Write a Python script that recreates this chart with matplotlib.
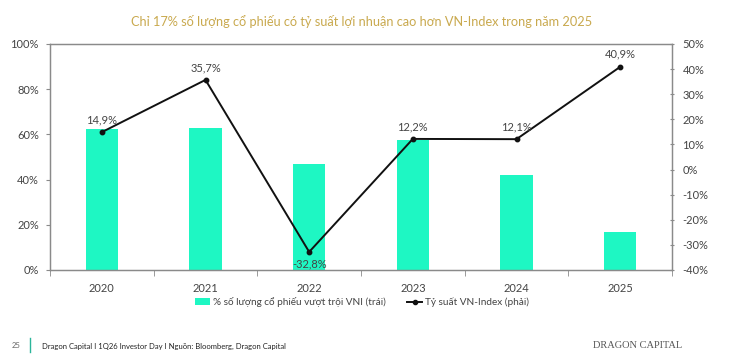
import matplotlib
matplotlib.use("Agg")
import matplotlib.pyplot as plt
from matplotlib.lines import Line2D
from matplotlib.patches import Patch
import numpy as np

plt.rcParams['font.family'] = ['Lato', 'DejaVu Sans']

years = ["2020", "2021", "2022", "2023", "2024", "2025"]
pct_outperform = [62.5, 62.8, 47.0, 57.5, 42.2, 17.0]
vni_return = [14.9, 35.7, -32.8, 12.2, 12.1, 40.9]
vni_labels = ["14,9%", "35,7%", "-32,8%", "12,2%", "12,1%", "40,9%"]
left_ticks = [0, 20, 40, 60, 80, 100]
right_ticks = [-40, -30, -20, -10, 0, 10, 20, 30, 40, 50]

title = "Chỉ 17% số lượng cổ phiếu có tỷ suất lợi nhuận cao hơn VN-Index trong năm 2025"
legend_bar = "% số lượng cổ phiếu vượt trội VNI (trái)"
legend_line = "Tỷ suất VN-Index (phải)"
footer = "Dragon Capital I 1Q26 Investor Day I Nguồn: Bloomberg, Dragon Capital"

bar_color = "#1EF7C3"
line_color = "#111111"
spine_color = "#8a8a8a"
text_color = "#444444"

fig = plt.figure(figsize=(7.39, 3.56), dpi=100)
ax = fig.add_axes([50/739, (356-270)/356, (672-50)/739, (270-44)/356])
x = np.arange(len(years))
ax.bar(x, pct_outperform, width=0.31, color=bar_color, zorder=2)
ax.set_xlim(-0.5, len(years) - 0.5)
ax.set_ylim(0, 100)
ax.set_yticks(left_ticks)
ax.set_yticklabels([f"{v}%" for v in left_ticks])
ax.set_xticks(x)
ax.set_xticklabels(years)
ax.set_xticks(np.arange(-0.5, len(years)), minor=True)
ax.tick_params(axis='x', which='major', length=0, pad=9, labelsize=8, colors=text_color)
ax.tick_params(axis='x', which='minor', length=4, color=spine_color)
ax.tick_params(axis='y', length=3, color=spine_color, labelsize=8, labelcolor=text_color, pad=5)
for s in ['left', 'right', 'top', 'bottom']:
    ax.spines[s].set_color(spine_color)
    ax.spines[s].set_linewidth(0.9)

ax2 = ax.twinx()
ax2.plot(x, vni_return, color=line_color, lw=1.4, marker='o', ms=3.2, zorder=3)
ax2.set_ylim(-40, 50)
ax2.set_yticks(right_ticks)
ax2.set_yticklabels([f"{v}%" for v in right_ticks])
ax2.tick_params(axis='y', length=3, direction='inout', color=spine_color, labelsize=8, labelcolor=text_color, pad=6)
for s in ['left', 'right', 'top', 'bottom']:
    ax2.spines[s].set_color(spine_color)
    ax2.spines[s].set_linewidth(0.9)

for xi, v, lab in zip(x, vni_return, vni_labels):
    if v < 0:
        ax2.annotate(lab, (xi, v), xytext=(0, -5), textcoords='offset points',
                     ha='center', va='top', fontsize=8, color=text_color)
    else:
        ax2.annotate(lab, (xi, v), xytext=(0, 5), textcoords='offset points',
                     ha='center', va='bottom', fontsize=8, color=text_color)

fig.text(362/739, 1 - 22/356, title, ha='center', va='center', fontsize=9.2,
         color="#C9A94E")

handles = [Patch(facecolor=bar_color, edgecolor='none'),
           Line2D([0], [0], color=line_color, lw=1.4, marker='o', ms=3)]
fig.legend(handles, [legend_bar, legend_line], loc='center',
           bbox_to_anchor=(362/739, 1 - 302/356), ncol=2, frameon=False,
           fontsize=7.2, labelcolor=text_color, handlelength=1.5, handletextpad=0.25,
           columnspacing=2.2)

fig.text(12/739, 1 - 346/356, "25", fontsize=5.5, color="#666666", va='center')
fig.add_artist(Line2D([30/739, 30/739], [1 - 352/356, 1 - 338/356], color="#2bb59a", lw=1.0))
fig.text(42/739, 1 - 346/356, footer, fontsize=5.5, color="#222222", va='center')
fig.text(682/739, 1 - 346/356, "DRAGON CAPITAL", fontsize=7.5, color="#555555",
         va='center', ha='right', family=['Liberation Serif', 'DejaVu Serif'])

fig.savefig("out.png", dpi=100, facecolor='white')
